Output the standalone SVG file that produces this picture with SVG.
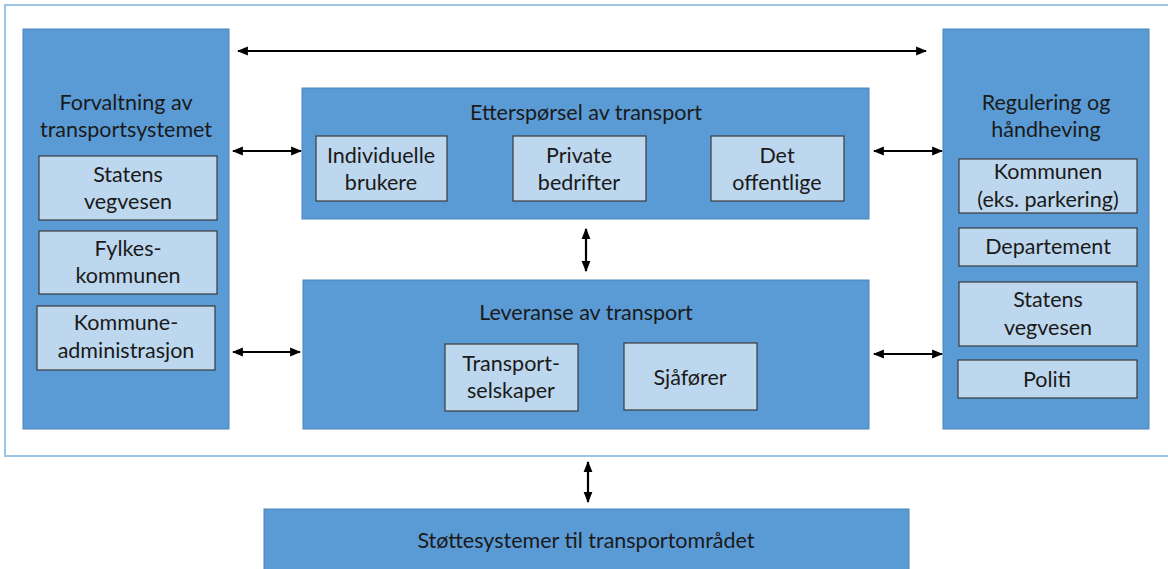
<svg xmlns="http://www.w3.org/2000/svg" width="1168" height="569" viewBox="0 0 1168 569">
<style>
.frame{fill:#ffffff;stroke:#9dc3e6;stroke-width:2}
.big{fill:#5b9bd5;stroke:#4a84bb;stroke-width:1}
.sub{fill:#bdd7ee;stroke:#3a3a3a;stroke-width:1.2}
text{font-family:"Lato","Liberation Sans",sans-serif;font-size:21.5px;fill:#1a1a1a;text-anchor:middle}
.con{stroke:#000;stroke-width:2.2;fill:none;marker-start:url(#ah);marker-end:url(#ah)}
</style>
<defs>
<marker id="ah" viewBox="0 0 10 10" refX="9" refY="5" markerWidth="5" markerHeight="5" orient="auto-start-reverse" markerUnits="strokeWidth">
<path d="M0,1 L10,5 L0,9 Z" fill="#000"/>
</marker>
</defs>
<rect width="1168" height="569" fill="#ffffff"/>
<rect class="frame" x="5" y="5" width="1170" height="451"/>

<g id="forvaltning">
<rect class="big" x="23" y="29" width="206" height="400"/>
<text x="126" y="110">Forvaltning av</text>
<text x="126" y="137">transportsystemet</text>
</g>
<g id="statens-vegvesen-1">
<rect class="sub" x="39" y="156" width="178" height="64"/>
<text x="128" y="182">Statens</text>
<text x="128" y="209">vegvesen</text>
</g>
<g id="fylkeskommunen">
<rect class="sub" x="39" y="231" width="178" height="63"/>
<text x="128" y="256">Fylkes-</text>
<text x="128" y="283">kommunen</text>
</g>
<g id="kommuneadministrasjon">
<rect class="sub" x="37" y="306" width="178" height="64"/>
<text x="126" y="330">Kommune-</text>
<text x="126" y="358">administrasjon</text>
</g>

<g id="ettersporsel">
<rect class="big" x="302" y="88" width="567" height="131"/>
<text x="586" y="120">Etterspørsel av transport</text>
</g>
<g id="individuelle">
<rect class="sub" x="316" y="136" width="131" height="65"/>
<text x="381" y="163">Individuelle</text>
<text x="381" y="190">brukere</text>
</g>
<g id="private">
<rect class="sub" x="513" y="136" width="133" height="65"/>
<text x="579" y="163">Private</text>
<text x="579" y="190">bedrifter</text>
</g>
<g id="offentlige">
<rect class="sub" x="711" y="136" width="133" height="65"/>
<text x="777" y="163">Det</text>
<text x="777" y="190">offentlige</text>
</g>

<g id="leveranse">
<rect class="big" x="303" y="280" width="566" height="149"/>
<text x="586" y="320">Leveranse av transport</text>
</g>
<g id="transportselskaper">
<rect class="sub" x="445" y="344" width="133" height="67"/>
<text x="511" y="371">Transport-</text>
<text x="511" y="398">selskaper</text>
</g>
<g id="sjaforer">
<rect class="sub" x="624" y="343" width="133" height="67"/>
<text x="690" y="385">Sjåfører</text>
</g>

<g id="regulering">
<rect class="big" x="943" y="29" width="206" height="400"/>
<text x="1046" y="110">Regulering og</text>
<text x="1046" y="137">håndheving</text>
</g>
<g id="kommunen">
<rect class="sub" x="959" y="159" width="178" height="54"/>
<text x="1048" y="179">Kommunen</text>
<text x="1048" y="207">(eks. parkering)</text>
</g>
<g id="departement">
<rect class="sub" x="959" y="228" width="178" height="38"/>
<text x="1048" y="254">Departement</text>
</g>
<g id="statens-vegvesen-2">
<rect class="sub" x="959" y="282" width="178" height="64"/>
<text x="1048" y="307">Statens</text>
<text x="1048" y="335">vegvesen</text>
</g>
<g id="politi">
<rect class="sub" x="958" y="360" width="179" height="38"/>
<text x="1047" y="387">Politi</text>
</g>

<g id="stottesystemer">
<rect class="big" x="264" y="509" width="645" height="70"/>
<text x="586" y="548">Støttesystemer til transportområdet</text>
</g>

<g id="connectors">
<line class="con" x1="238" y1="51" x2="926" y2="51"/>
<line class="con" x1="233" y1="151" x2="301" y2="151"/>
<line class="con" x1="233" y1="352" x2="300" y2="352"/>
<line class="con" x1="874" y1="151" x2="942" y2="151"/>
<line class="con" x1="874" y1="354" x2="942" y2="354"/>
<line class="con" x1="586" y1="229" x2="586" y2="271"/>
<line class="con" x1="588" y1="462" x2="588" y2="502"/>
</g>
</svg>
